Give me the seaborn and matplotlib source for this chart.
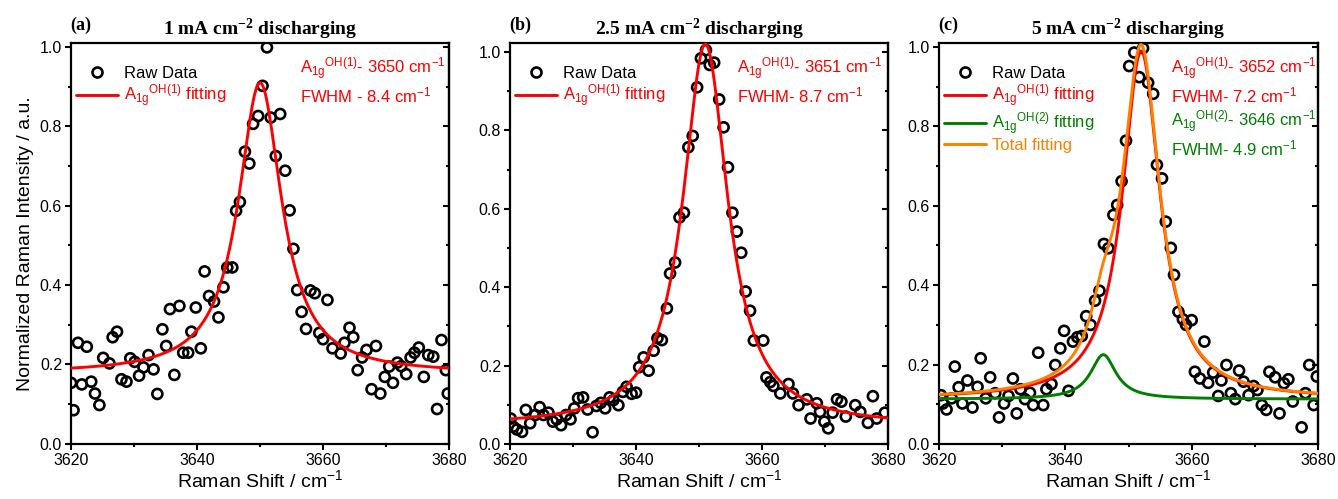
import numpy as np
import pandas as pd
import matplotlib
matplotlib.use("Agg")
import matplotlib.pyplot as plt
from matplotlib.lines import Line2D
from matplotlib.ticker import MultipleLocator, FormatStrFormatter
import seaborn as sns

# ---------------- raw spectra (normalized intensity vs Raman shift) ----------------
shift_a = [3620.0, 3620.4, 3621.1, 3621.7, 3622.5, 3623.2, 3623.8, 3624.5, 3625.1, 3626.1,
           3626.6, 3627.3, 3628.0, 3628.8, 3629.4, 3630.1, 3630.8, 3631.5, 3632.3, 3633.1,
           3633.7, 3634.5, 3635.1, 3635.7, 3636.4, 3637.2, 3637.8, 3638.6, 3639.1, 3639.8,
           3640.6, 3641.2, 3641.9, 3642.7, 3643.4, 3644.2, 3644.8, 3645.6, 3646.2, 3646.8,
           3647.6, 3648.3, 3648.9, 3649.7, 3650.4, 3651.1, 3651.7, 3652.5, 3653.2, 3654.0,
           3654.7, 3655.3, 3655.9, 3656.6, 3657.3, 3658.0, 3658.7, 3659.4, 3660.0, 3660.7,
           3661.5, 3662.8, 3663.4, 3664.2, 3664.8, 3665.5, 3666.2, 3666.9, 3667.7, 3668.4,
           3669.1, 3669.8, 3670.5, 3671.1, 3671.8, 3672.4, 3673.2, 3673.9, 3674.5, 3675.2,
           3676.0, 3676.7, 3677.5, 3678.1, 3678.8, 3679.5, 3679.8]
inten_a = [0.153, 0.084, 0.254, 0.149, 0.244, 0.156, 0.126, 0.097, 0.216, 0.202,
           0.268, 0.282, 0.162, 0.156, 0.215, 0.206, 0.171, 0.192, 0.223, 0.187,
           0.125, 0.288, 0.246, 0.339, 0.173, 0.347, 0.229, 0.229, 0.282, 0.343,
           0.240, 0.434, 0.372, 0.358, 0.318, 0.394, 0.444, 0.444, 0.587, 0.609,
           0.736, 0.706, 0.806, 0.826, 0.902, 0.999, 0.822, 0.725, 0.831, 0.688,
           0.588, 0.491, 0.387, 0.332, 0.289, 0.386, 0.379, 0.279, 0.263, 0.362,
           0.240, 0.227, 0.254, 0.292, 0.268, 0.185, 0.217, 0.236, 0.137, 0.246,
           0.126, 0.168, 0.194, 0.153, 0.204, 0.195, 0.175, 0.217, 0.229, 0.242,
           0.168, 0.223, 0.219, 0.087, 0.261, 0.185, 0.126]

shift_b = [3620.1, 3620.5, 3621.1, 3621.9, 3622.5, 3623.2, 3624.0, 3624.7, 3625.3, 3626.1,
           3626.8, 3627.4, 3628.1, 3628.9, 3629.6, 3630.2, 3630.8, 3631.6, 3632.3, 3633.1,
           3633.7, 3634.4, 3635.1, 3635.8, 3636.4, 3637.2, 3637.9, 3638.5, 3639.3, 3640.0,
           3640.5, 3641.2, 3642.0, 3642.8, 3643.4, 3644.1, 3644.9, 3645.4, 3646.2, 3646.9,
           3647.6, 3648.3, 3649.0, 3649.7, 3650.3, 3651.1, 3651.7, 3652.4, 3653.2, 3653.9,
           3654.6, 3655.3, 3656.0, 3656.7, 3657.4, 3658.1, 3658.7, 3660.2, 3660.7, 3661.3,
           3661.8, 3662.9, 3664.2, 3664.9, 3665.8, 3667.1, 3667.7, 3668.7, 3669.2, 3669.9,
           3670.5, 3671.2, 3671.9, 3672.6, 3673.3, 3674.8, 3675.6, 3676.8, 3677.6, 3678.2,
           3679.5]
inten_b = [0.065, 0.044, 0.037, 0.031, 0.087, 0.053, 0.074, 0.094, 0.074, 0.080,
           0.057, 0.063, 0.048, 0.074, 0.063, 0.091, 0.117, 0.119, 0.088, 0.030,
           0.097, 0.105, 0.091, 0.119, 0.112, 0.099, 0.133, 0.146, 0.128, 0.131,
           0.196, 0.221, 0.187, 0.238, 0.270, 0.265, 0.346, 0.435, 0.463, 0.578,
           0.590, 0.757, 0.786, 0.910, 0.984, 1.005, 0.967, 0.973, 0.879, 0.808,
           0.706, 0.590, 0.542, 0.488, 0.389, 0.340, 0.264, 0.264, 0.170, 0.158,
           0.148, 0.129, 0.153, 0.129, 0.099, 0.114, 0.065, 0.104, 0.082, 0.057,
           0.040, 0.080, 0.114, 0.108, 0.070, 0.099, 0.082, 0.054, 0.122, 0.065,
           0.080]

shift_c = [3620.3, 3620.6, 3621.2, 3622.0, 3622.5, 3623.1, 3623.7, 3624.5, 3625.3, 3626.1,
           3626.6, 3627.4, 3628.1, 3628.9, 3629.5, 3630.3, 3631.0, 3631.7, 3632.3, 3632.9,
           3633.6, 3634.4, 3634.9, 3635.7, 3636.5, 3637.0, 3637.8, 3638.4, 3639.2, 3639.8,
           3640.5, 3641.2, 3641.9, 3642.6, 3643.3, 3644.0, 3644.7, 3645.4, 3646.1, 3646.8,
           3647.6, 3648.2, 3648.9, 3649.6, 3650.1, 3650.9, 3651.7, 3652.3, 3653.1, 3653.9,
           3654.5, 3655.3, 3655.9, 3656.7, 3657.2, 3657.9, 3658.6, 3659.1, 3660.0, 3660.5,
           3661.3, 3662.0, 3662.6, 3663.4, 3664.2, 3664.7, 3665.5, 3666.2, 3666.9, 3667.5,
           3668.2, 3669.0, 3669.8, 3670.4, 3671.1, 3671.8, 3672.3, 3673.2, 3673.9, 3674.6,
           3675.3, 3676.0, 3677.4, 3678.0, 3678.6, 3679.3, 3679.8]
inten_c = [0.123, 0.102, 0.087, 0.115, 0.195, 0.143, 0.102, 0.160, 0.092, 0.144,
           0.216, 0.115, 0.168, 0.128, 0.067, 0.102, 0.121, 0.165, 0.077, 0.138,
           0.113, 0.129, 0.098, 0.230, 0.098, 0.138, 0.151, 0.199, 0.241, 0.285,
           0.134, 0.258, 0.269, 0.272, 0.322, 0.300, 0.361, 0.386, 0.504, 0.493,
           0.577, 0.602, 0.662, 0.764, 0.952, 0.986, 0.924, 0.997, 0.910, 0.882,
           0.703, 0.669, 0.560, 0.494, 0.426, 0.333, 0.314, 0.300, 0.312, 0.182,
           0.165, 0.258, 0.154, 0.180, 0.121, 0.160, 0.199, 0.128, 0.113, 0.185,
           0.157, 0.123, 0.146, 0.136, 0.098, 0.086, 0.182, 0.168, 0.077, 0.153,
           0.163, 0.107, 0.042, 0.128, 0.199, 0.098, 0.170]

# ---------------- Lorentzian fit parameters ----------------
# centre / FWHM (cm-1) as reported, amplitude and baseline (normalized units)
center_a, fwhm_a, amp_a, base_a = 3650.0, 8.4, 0.734, 0.176
center_b, fwhm_b, amp_b, base_b = 3651.0, 8.7, 0.975, 0.045
center_c1, fwhm_c1, amp_c1 = 3652.0, 7.2, 0.877
center_c2, fwhm_c2, amp_c2 = 3646.0, 4.9, 0.112
base_c = 0.113

titles = ["1 mA cm$^{-2}$ discharging", "2.5 mA cm$^{-2}$ discharging",
          "5 mA cm$^{-2}$ discharging"]
panel_tags = ["(a)", "(b)", "(c)"]

RED, GREEN, ORANGE = "#FF0000", "#008000", "#FF8000"


def lorentz(x, center, fwhm, amp):
    hw = fwhm / 2.0
    return amp * hw ** 2 / ((x - center) ** 2 + hw ** 2)


sns.set_style("ticks")
plt.rcParams["font.family"] = ["Liberation Sans", "DejaVu Sans"]
plt.rcParams["mathtext.default"] = "regular"
plt.rcParams["axes.linewidth"] = 1.6
for key in ["axes.edgecolor", "xtick.color", "ytick.color", "text.color",
            "axes.labelcolor"]:
    plt.rcParams[key] = "black"

fig = plt.figure(figsize=(13.38, 4.99), dpi=100)
rects = [[0.0531, 0.1112, 0.2825, 0.8026],
         [0.3812, 0.1102, 0.2825, 0.8036],
         [0.7018, 0.1102, 0.2833, 0.8036]]
ylims = [1.01, 1.023, 1.01]
axes = [fig.add_axes(r) for r in rects]

xfit = np.linspace(3620, 3680, 1201)

raw = [(shift_a, inten_a), (shift_b, inten_b), (shift_c, inten_c)]

for i, ax in enumerate(axes):
    sx, sy = raw[i]
    sns.scatterplot(x=sx, y=sy, ax=ax, marker="o", s=52, facecolors="none",
                    edgecolor="black", linewidth=1.9, zorder=2, legend=False)

# fitted curves
fit_a = base_a + lorentz(xfit, center_a, fwhm_a, amp_a)
fit_b = base_b + lorentz(xfit, center_b, fwhm_b, amp_b)
peak_c1 = lorentz(xfit, center_c1, fwhm_c1, amp_c1)
peak_c2 = lorentz(xfit, center_c2, fwhm_c2, amp_c2)
fit_c1 = base_c + peak_c1
fit_c2 = base_c + peak_c2
fit_total = base_c + peak_c1 + peak_c2

lw = 2.1
sns.lineplot(x=xfit, y=fit_a, ax=axes[0], color=RED, lw=lw, zorder=3)
sns.lineplot(x=xfit, y=fit_b, ax=axes[1], color=RED, lw=lw, zorder=3)
sns.lineplot(x=xfit, y=fit_c2, ax=axes[2], color=GREEN, lw=lw, zorder=3)
sns.lineplot(x=xfit, y=fit_c1, ax=axes[2], color=RED, lw=lw, zorder=3)
sns.lineplot(x=xfit, y=fit_total, ax=axes[2], color=ORANGE, lw=lw, zorder=4)

serif = "Liberation Serif"

for i, ax in enumerate(axes):
    ax.set_xlim(3620, 3680)
    ax.set_ylim(0, ylims[i])
    ax.xaxis.set_major_locator(MultipleLocator(20))
    ax.xaxis.set_minor_locator(MultipleLocator(10))
    ax.yaxis.set_major_locator(MultipleLocator(0.2))
    ax.yaxis.set_minor_locator(MultipleLocator(0.1))
    ax.yaxis.set_major_formatter(FormatStrFormatter("%.1f"))
    ax.tick_params(which="both", direction="out", width=1.5, labelsize=11.5,
                   top=False, right=False, pad=2.5, colors="black")
    ax.tick_params(which="major", length=4)
    ax.tick_params(which="minor", length=2.2)
    for sp in ax.spines.values():
        sp.set_visible(True)
        sp.set_linewidth(1.6)
        sp.set_color("black")
    # inward ticks along the right spine
    sec = ax.secondary_yaxis("right")
    sec.yaxis.set_major_locator(MultipleLocator(0.2))
    sec.yaxis.set_minor_locator(MultipleLocator(0.1))
    sec.tick_params(which="both", direction="in", width=1.5, labelright=False,
                    colors="black")
    sec.tick_params(which="major", length=4)
    sec.tick_params(which="minor", length=2.2)
    sec.spines["right"].set_linewidth(1.6)
    sec.spines["right"].set_color("black")

    ax.set_xlabel("Raman Shift / cm$^{-1}$", fontsize=14, labelpad=1)
    ax.text(0.5, 1.033, titles[i], transform=ax.transAxes, ha="center", va="center",
            fontsize=14, fontweight="bold", family=serif)
    ax.text(-0.002, 1.043, panel_tags[i], transform=ax.transAxes, ha="left", va="center",
            fontsize=13, fontweight="bold", family=serif)

axes[0].set_ylabel("Normalized Raman Intensity / a.u.", fontsize=14, labelpad=4)

# legends
raw_handle = Line2D([], [], ls="none", marker="o", ms=7.2, mfc="none", mec="black", mew=1.9)
fit1_handle = Line2D([], [], color=RED, lw=lw)
fit2_handle = Line2D([], [], color=GREEN, lw=lw)
tot_handle = Line2D([], [], color=ORANGE, lw=lw)
fit1_label = "A$_{1g}$$^{OH(1)}$ fitting"
fit2_label = "A$_{1g}$$^{OH(2)}$ fitting"

legend_sets = [
    ([raw_handle, fit1_handle], ["Raw Data", fit1_label], ["black", RED]),
    ([raw_handle, fit1_handle], ["Raw Data", fit1_label], ["black", RED]),
    ([raw_handle, fit1_handle, fit2_handle, tot_handle],
     ["Raw Data", fit1_label, fit2_label, "Total fitting"],
     ["black", RED, GREEN, ORANGE]),
]
for ax, (handles, labels, colors) in zip(axes, legend_sets):
    leg = ax.legend(handles, labels, loc="upper left", bbox_to_anchor=(0.0, 0.955),
                    frameon=False, fontsize=12, handlelength=2.5, handletextpad=0.35,
                    labelspacing=0.08, borderpad=0.3, borderaxespad=0.0)
    for t, c in zip(leg.get_texts(), colors):
        t.set_color(c)

# peak annotations
notes = [
    [("A$_{1g}$$^{OH(1)}$- 3650 cm$^{-1}$", RED), ("FWHM - 8.4 cm$^{-1}$", RED)],
    [("A$_{1g}$$^{OH(1)}$- 3651 cm$^{-1}$", RED), ("FWHM- 8.7 cm$^{-1}$", RED)],
    [("A$_{1g}$$^{OH(1)}$- 3652 cm$^{-1}$", RED), ("FWHM- 7.2 cm$^{-1}$", RED),
     ("A$_{1g}$$^{OH(2)}$- 3646 cm$^{-1}$", GREEN), ("FWHM- 4.9 cm$^{-1}$", GREEN)],
]
note_rows = [0.935, 0.870, 0.803, 0.738]
note_x = [0.606, 0.600, 0.612]
for ax, lines, nx in zip(axes, notes, note_x):
    for (txt, col), ny in zip(lines, note_rows):
        ax.text(nx, ny, txt, transform=ax.transAxes, ha="left",
                va="center", fontsize=12, color=col)

fig.savefig("out.png", dpi=100)
